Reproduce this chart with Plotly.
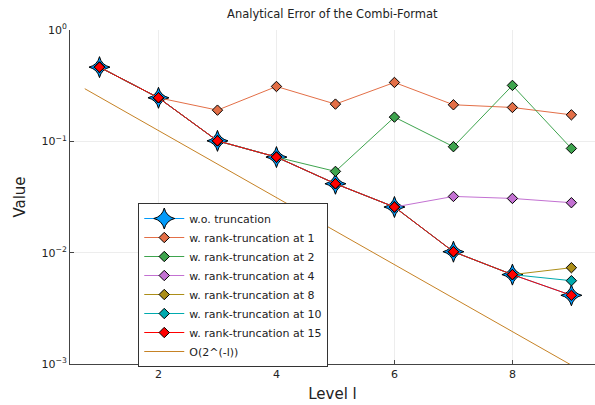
import plotly.graph_objects as go

levels = [1, 2, 3, 4, 5, 6, 7, 8, 9]

err_none = [0.464, 0.246, 0.101, 0.0722, 0.0416, 0.0257, 0.0102, 0.00635, 0.00414]
err_r1 = [0.464, 0.246, 0.1906, 0.311, 0.216, 0.338, 0.213, 0.2015, 0.173]
err_r2 = [0.464, 0.246, 0.101, 0.0722, 0.0537, 0.165, 0.0895, 0.318, 0.0863]
err_r4 = [0.464, 0.246, 0.101, 0.0722, 0.0416, 0.0257, 0.032, 0.0307, 0.0281]
err_r8 = [0.464, 0.246, 0.101, 0.0722, 0.0416, 0.0257, 0.0102, 0.00635, 0.00733]
err_r10 = [0.464, 0.246, 0.101, 0.0722, 0.0416, 0.0257, 0.0102, 0.00635, 0.0056]
err_r15 = [0.464, 0.246, 0.101, 0.0722, 0.0416, 0.0257, 0.0102, 0.00635, 0.00414]

ref_x = [0.75, 9.0]
ref_y = [0.297, 0.000977]

y_tickvals = [1, 0.1, 0.01, 0.001]
y_ticktext = ["10<sup>0</sup>", "10<sup>−1</sup>", "10<sup>−2</sup>", "10<sup>−3</sup>"]
x_tickvals = [2, 4, 6, 8]

series = [
    ("w. rank-truncation at 1", err_r1, "#E36F47"),
    ("w. rank-truncation at 2", err_r2, "#3EA44E"),
    ("w. rank-truncation at 4", err_r4, "#C371D2"),
    ("w. rank-truncation at 8", err_r8, "#AC8E18"),
    ("w. rank-truncation at 10", err_r10, "#00AAAE"),
    ("w. rank-truncation at 15", err_r15, "#FF0000"),
]

fig = go.Figure()
fig.add_trace(go.Scatter(
    x=levels, y=err_none, mode="lines+markers", name="w.o. truncation",
    line=dict(color="#009AFA", width=1),
    marker=dict(symbol="star-diamond", size=15, color="#009AFA",
                line=dict(color="black", width=1)),
))
for name, vals, col in series:
    fig.add_trace(go.Scatter(
        x=levels, y=vals, mode="lines+markers", name=name,
        line=dict(color=col, width=1),
        marker=dict(symbol="diamond", size=8, color=col,
                    line=dict(color="black", width=1)),
    ))
fig.add_trace(go.Scatter(
    x=ref_x, y=ref_y, mode="lines", name="O(2^(-l))",
    line=dict(color="#C68225", width=1),
))

fig.update_layout(
    width=595, height=405,
    margin=dict(l=70, r=0, t=30, b=41),
    paper_bgcolor="white", plot_bgcolor="white",
    font=dict(family="DejaVu Sans", color="#222"),
    title=dict(text="Analytical Error of the Combi-Format", x=0.5585, xanchor="center",
               y=0.975, yanchor="top", font=dict(size=11.5, color="#222")),
    showlegend=True,
    legend=dict(x=0.13, y=0.482, xanchor="left", yanchor="top",
                bordercolor="#333", borderwidth=1, bgcolor="white",
                font=dict(size=11, color="#222"), itemwidth=40,
                tracegroupgap=0),
)
fig.update_xaxes(
    range=[0.5, 9.4], tickvals=x_tickvals, ticks="inside", ticklen=4,
    tickcolor="#444", showline=True, linecolor="#444", linewidth=1,
    showgrid=True, gridcolor="#EDEDED", gridwidth=1, zeroline=False,
    tickfont=dict(size=11), title=dict(text="Level l", font=dict(size=15), standoff=8),
)
fig.update_yaxes(
    type="log", range=[-3, 0], tickvals=y_tickvals, ticktext=y_ticktext,
    ticks="inside", ticklen=4, tickcolor="#444",
    showline=True, linecolor="#444", linewidth=1,
    showgrid=True, gridcolor="#EDEDED", gridwidth=1, zeroline=False,
    tickfont=dict(size=11), title=dict(text="Value", font=dict(size=15), standoff=12),
)

fig.write_html("out.html")
